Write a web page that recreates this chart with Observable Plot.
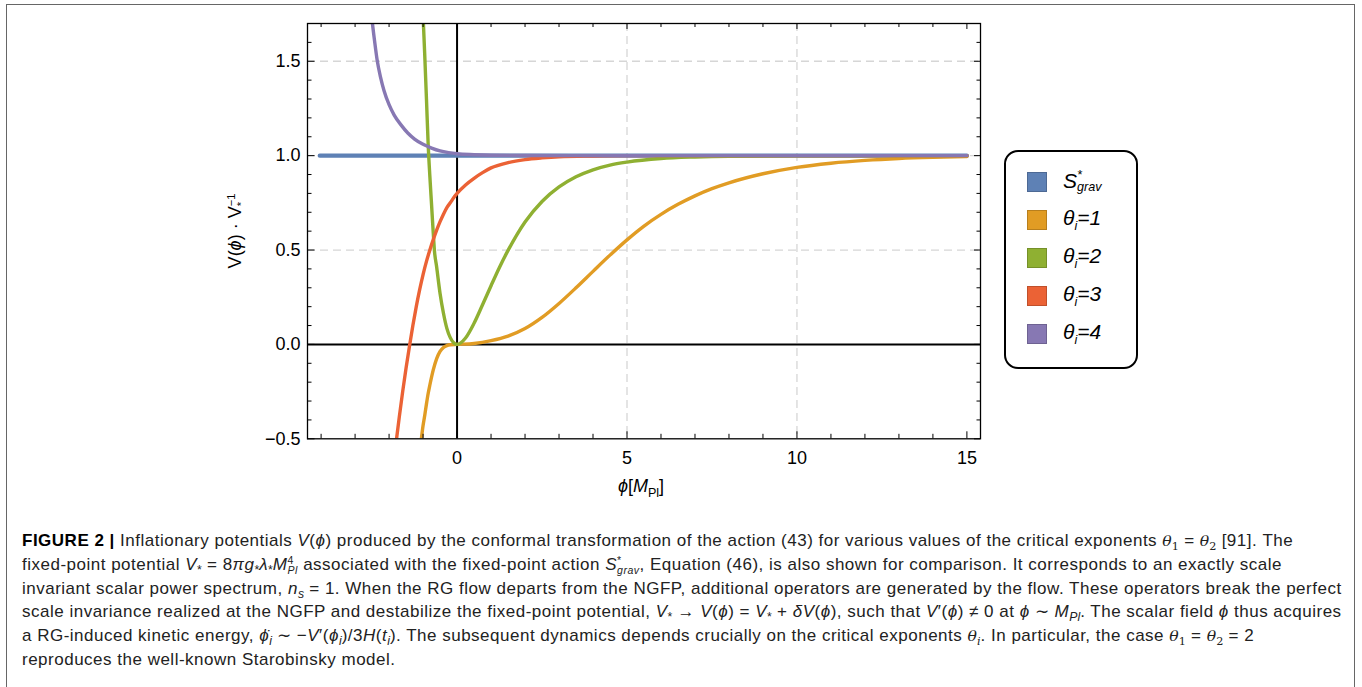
<!DOCTYPE html>
<html>
<head>
<meta charset="utf-8">
<script src="https://cdn.jsdelivr.net/npm/d3@7"></script>
<script src="https://cdn.jsdelivr.net/npm/@observablehq/plot@0.6"></script>
<style>
  html, body { margin: 0; padding: 0; background: #fff; }
  body { width: 1362px; height: 687px; position: relative; overflow: hidden; font-family: "Liberation Sans", Arial, sans-serif; }
  #border { position: absolute; left: 6px; top: 4px; width: 1349px; height: 720px; border: 1.5px solid #666; box-sizing: border-box; }
  #chart { position: absolute; left: 0; top: 0; }
  .lbl { position: absolute; white-space: nowrap; font-size: 18px; color: #000; transform: translate(-50%, -50%); }
  .stack { display: inline-flex; flex-direction: column; vertical-align: middle; line-height: 0.95; font-size: 0.62em; }
  #legend { position: absolute; left: 1004px; top: 150px; width: 134px; height: 219px; border: 2px solid #000; border-radius: 14px; box-sizing: border-box; }
  .row { position: absolute; left: 21px; height: 21px; display: flex; align-items: center; }
  .sw { width: 20px; height: 20px; box-sizing: border-box; border: 1px solid rgba(0,0,0,0.18); }
  .lt { position: absolute; left: 36px; font-style: italic; font-size: 21px; white-space: nowrap; line-height: 1; }
  #caption { position: absolute; left: 22px; top: 529px; font-size: 17px; letter-spacing: 0.5px; line-height: 23.8px; color: #222; }
  #caption div { white-space: nowrap; }
  #caption sub, #caption sup { line-height: 0; font-size: 0.72em; letter-spacing: 0; }
  .serif { font-family: "DejaVu Serif", "Liberation Serif", serif; font-size: 0.92em; letter-spacing: 0; }
</style>
</head>
<body>
<div id="border"></div>
<div id="chart"></div>
<div class="lbl" id="ylab" style="left:236px; top:231px; transform: translate(-50%,-50%) rotate(-90deg);">V(<i>ϕ</i>) · V<span class="stack"><span>−1</span><span>*</span></span></div>
<div class="lbl" id="xlab" style="left:641px; top:488px;"><i>ϕ</i>[<i>M</i><sub style="font-size:0.7em;">Pl</sub>]</div>
<div id="legend"></div>
<div id="caption">
  <div><b style="color:#000">FIGURE 2 |</b> Inflationary potentials <i>V</i>(<i>ϕ</i>) produced by the conformal transformation of the action (43) for various values of the critical exponents <span class="serif"><i>θ</i><sub>1</sub></span> = <span class="serif"><i>θ</i><sub>2</sub></span> [91]. The</div>
  <div>fixed-point potential <i>V</i><sub>*</sub> = 8<i>πg</i><sub>*</sub><i>λ</i><sub>*</sub><i>M</i><span class="stack"><span>4</span><span><i>Pl</i></span></span> associated with the fixed-point action <i>S</i><span class="stack"><span>*</span><span><i>grav</i></span></span>, Equation (46), is also shown for comparison. It corresponds to an exactly scale</div>
  <div>invariant scalar power spectrum, <i>n</i><sub><i>s</i></sub> = 1. When the RG flow departs from the NGFP, additional operators are generated by the flow. These operators break the perfect</div>
  <div>scale invariance realized at the NGFP and destabilize the fixed-point potential, <i>V</i><sub>*</sub> → <i>V</i>(<i>ϕ</i>) = <i>V</i><sub>*</sub> + <i>δV</i>(<i>ϕ</i>), such that <i>V</i>′(<i>ϕ</i>) ≠ 0 at <i>ϕ</i> ∼ <i>M</i><sub><i>Pl</i></sub>. The scalar field <i>ϕ</i> thus acquires</div>
  <div>a RG-induced kinetic energy, <i>ϕ̇</i><sub><i>i</i></sub> ∼ −<i>V</i>′(<i>ϕ</i><sub><i>i</i></sub>)/3<i>H</i>(<i>t</i><sub><i>i</i></sub>). The subsequent dynamics depends crucially on the critical exponents <span class="serif"><i>θ</i><sub><i>i</i></sub></span>. In particular, the case <span class="serif"><i>θ</i><sub>1</sub></span> = <span class="serif"><i>θ</i><sub>2</sub></span> = 2</div>
  <div>reproduces the well-known Starobinsky model.</div>
</div>
<script>
// ---- data ----
const seriesNames = ["S*grav", "θi=1", "θi=2", "θi=3", "θi=4"];
const seriesColors = ["#5E81B5", "#E19C24", "#8FB032", "#EB6235", "#8778B3"];

const phiGrav = [-4.04, 15];
const vGrav = [1, 1];

const phiT1 = [-1.05, -1.0, -0.95, -0.9, -0.85, -0.8, -0.7, -0.6, -0.5, -0.4, -0.3, -0.2, 0, 0.5, 1, 1.5, 2, 2.5, 3, 3.5, 4, 4.5, 5, 5.5, 6, 6.5, 7, 7.5, 8, 9, 10, 11, 12, 13, 14, 15];
const vT1 = [-0.5, -0.43, -0.375, -0.315, -0.26, -0.215, -0.135, -0.075, -0.037, -0.016, -0.006, -0.002, 0, 0.005, 0.02, 0.044, 0.084, 0.143, 0.217, 0.300, 0.387, 0.473, 0.554, 0.627, 0.689, 0.742, 0.787, 0.825, 0.856, 0.904, 0.938, 0.96, 0.975, 0.985, 0.991, 0.995];

const phiT2 = [-0.99, -0.95, -0.9, -0.85, -0.8, -0.75, -0.7, -0.667, -0.6, -0.5, -0.4, -0.3, -0.2, -0.1, 0, 0.25, 0.5, 0.75, 1, 1.25, 1.5, 1.75, 2, 2.5, 3, 3.5, 4, 4.5, 5, 6, 7, 8, 10, 15];
const vT2 = [1.7, 1.53, 1.3, 1.06, 0.89, 0.74, 0.59, 0.5, 0.41, 0.27, 0.165, 0.085, 0.036, 0.009, 0, 0.034, 0.112, 0.21, 0.311, 0.409, 0.498, 0.578, 0.648, 0.757, 0.834, 0.888, 0.925, 0.95, 0.966, 0.985, 0.993, 0.997, 0.999, 1.0];

const phiT3 = [-1.78, -1.7, -1.6, -1.5, -1.4, -1.3, -1.2, -1.1, -1.0, -0.9, -0.8, -0.7, -0.6, -0.5, -0.4, -0.3, -0.2, -0.1, 0, 0.25, 0.5, 0.75, 1.0, 1.5, 2, 2.5, 3, 4, 5, 15];
const vT3 = [-0.5, -0.385, -0.25, -0.125, -0.01, 0.1, 0.2, 0.29, 0.37, 0.44, 0.5, 0.555, 0.605, 0.65, 0.69, 0.725, 0.75, 0.777, 0.8, 0.845, 0.88, 0.91, 0.935, 0.963, 0.979, 0.988, 0.994, 0.998, 1.0, 1.0];

const phiT4 = [-2.49, -2.45, -2.4, -2.35, -2.25, -2.15, -2.0, -1.85, -1.65, -1.45, -1.25, -1.0, -0.75, -0.5, -0.25, 0, 0.5, 1, 2, 4, 15];
const vT4 = [1.7, 1.64, 1.57, 1.505, 1.415, 1.345, 1.27, 1.215, 1.163, 1.12, 1.088, 1.06, 1.04, 1.025, 1.016, 1.01, 1.005, 1.002, 1.0005, 1.0, 1.0];

const xDomain = [-4.4, 15.4];
const yDomain = [-0.5, 1.7];
const xMajor = [0, 5, 10, 15];
const xMinor = [-4, -3, -2, -1, 1, 2, 3, 4, 6, 7, 8, 9, 11, 12, 13, 14];
const yMajor = [-0.5, 0, 0.5, 1, 1.5];
const yMinor = [-0.4, -0.3, -0.2, -0.1, 0.1, 0.2, 0.3, 0.4, 0.6, 0.7, 0.8, 0.9, 1.1, 1.2, 1.3, 1.4, 1.6];
const xGrid = [5, 10];
const yGrid = [0.5, 1, 1.5];

// ---- build ----
const phis = [phiGrav, phiT1, phiT2, phiT3, phiT4];
const vals = [vGrav, vT1, vT2, vT3, vT4];
const tables = seriesNames.map((name, i) => phis[i].map((p, j) => ({series: name, phi: p, v: vals[i][j]})));

const W = 1362, H = 470, mL = 307, mR = 382, mT = 23, mB = 31.7;
const FW = W - mL - mR, FH = H - mT - mB;

const chart = Plot.plot({
  width: W, height: H,
  marginLeft: mL, marginRight: mR, marginTop: mT, marginBottom: mB,
  x: {domain: xDomain},
  y: {domain: yDomain},
  color: {domain: seriesNames, range: seriesColors},
  style: {fontFamily: "'Liberation Sans', Arial, sans-serif", fontSize: "18px", color: "#000", background: "transparent", overflow: "visible"},
  marks: [
    Plot.ruleX(xGrid, {stroke: "#d6d6d6", strokeWidth: 1.3, strokeDasharray: "8,5"}),
    Plot.ruleY(yGrid, {stroke: "#d6d6d6", strokeWidth: 1.3, strokeDasharray: "8,5"}),
    Plot.ruleX([0], {stroke: "#000", strokeWidth: 2}),
    Plot.ruleY([0], {stroke: "#000", strokeWidth: 2}),
    ...tables.map((t, i) => Plot.line(t, {x: "phi", y: "v", stroke: "series", curve: "monotone-x", strokeWidth: i === 0 ? 4.2 : 3.4, clip: true})),
    Plot.frame({stroke: "#000", strokeWidth: 1.3}),
    Plot.tickX(xMinor, {x: d => d, insetTop: FH - 4.5, stroke: "#000"}),
    Plot.tickX(xMajor, {x: d => d, insetTop: FH - 7, stroke: "#000"}),
    Plot.tickX(xMinor, {x: d => d, insetBottom: FH - 4, stroke: "#000"}),
    Plot.tickX(xMajor, {x: d => d, insetBottom: FH - 6, stroke: "#000"}),
    Plot.tickY(yMinor, {y: d => d, insetRight: FW - 4.5, stroke: "#000"}),
    Plot.tickY(yMajor, {y: d => d, insetRight: FW - 7.5, stroke: "#000"}),
    Plot.tickY(yMinor, {y: d => d, insetLeft: FW - 3.5, stroke: "#000"}),
    Plot.tickY(yMajor, {y: d => d, insetLeft: FW - 6, stroke: "#000"}),
    Plot.axisX(xMajor, {tickSize: 0, tickPadding: 12, tickFormat: d => String(d), label: null}),
    Plot.axisY(yMajor, {tickSize: 0, tickPadding: 7, tickFormat: d3.format(".1f"), label: null})
  ]
});
document.getElementById("chart").appendChild(chart);

// legend
const legend = document.getElementById("legend");
const labelsHtml = [
  '<i>S</i><span class="stack" style="font-size:0.6em"><span>*</span><span><i>grav</i></span></span>',
  '<i>θ</i><sub style="font-size:0.6em">i</sub>=1',
  '<i>θ</i><sub style="font-size:0.6em">i</sub>=2',
  '<i>θ</i><sub style="font-size:0.6em">i</sub>=3',
  '<i>θ</i><sub style="font-size:0.6em">i</sub>=4'
];
seriesNames.forEach((name, i) => {
  const row = document.createElement("div");
  row.className = "row";
  row.style.top = (19.5 + 38 * i) + "px";
  row.innerHTML = `<div class="sw" style="background:${seriesColors[i]}"></div><div class="lt">${labelsHtml[i]}</div>`;
  legend.appendChild(row);
});
</script>
</body>
</html>
